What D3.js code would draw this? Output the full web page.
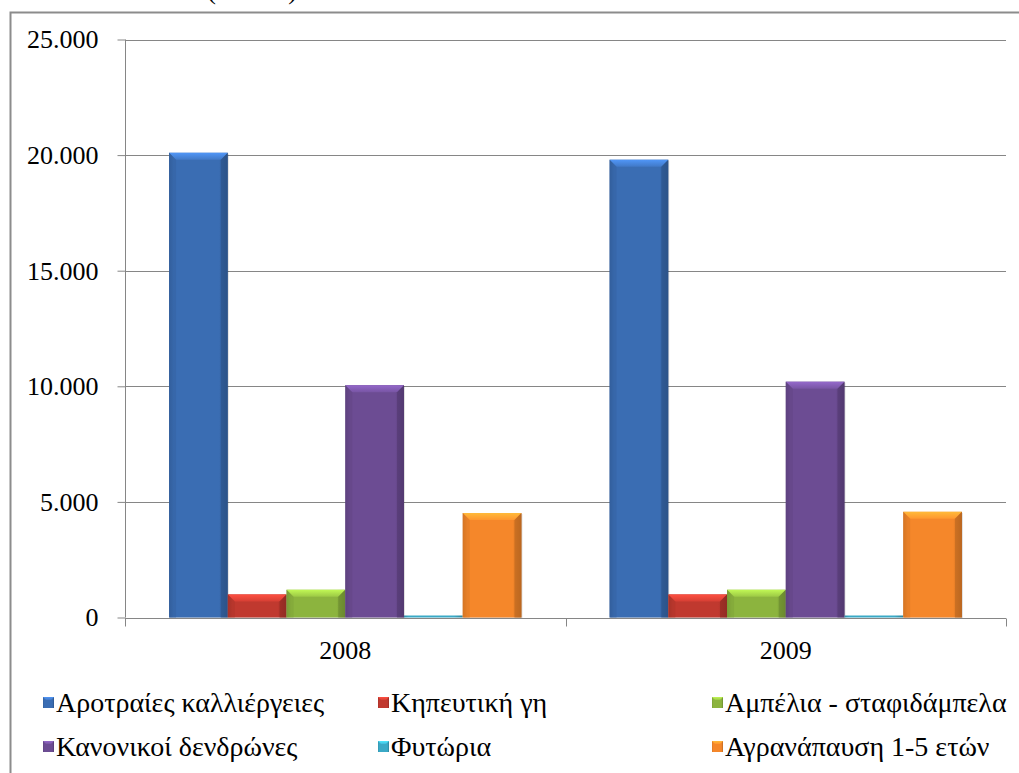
<!DOCTYPE html>
<html><head><meta charset="utf-8">
<script src="https://cdn.jsdelivr.net/npm/d3@7"></script>
<style>
body{margin:0;background:#fff}
svg{display:block}
</style>
</head><body>
<svg id="c" width="1019" height="773"></svg>
<script>
// ---- data ----
const years = ["2008", "2009"];
const seriesNames = ["Αροτραίες καλλιέργειες", "Κηπευτική γη", "Αμπέλια - σταφιδάμπελα",
                     "Κανονικοί δενδρώνες", "Φυτώρια", "Αγρανάπαυση 1-5 ετών"];
const values2008 = [20100, 1000, 1200, 10050, 20, 4520];
const values2009 = [19800, 1000, 1200, 10200, 20, 4570];
const yTicks = [0, 5000, 10000, 15000, 20000, 25000];
const yTickLabels = ["0", "5.000", "10.000", "15.000", "20.000", "25.000"];
const titleText = "(σε εκτ.)";

// ---- styles ----
const baseColors = ["#3a6db3", "#c0392f", "#8cb43e", "#6c4c93", "#3aa9c6", "#f5872a"];
const FONT = "26px";
const LEGFONT = "28px";
const FAMILY = "'Liberation Serif'";

const svg = d3.select("#c");
const W = 1019, H = 773;
svg.append("rect").attr("width", W).attr("height", H).attr("fill", "#fff");

const defs = svg.append("defs");
baseColors.forEach((c, i) => {
  const col = d3.color(c);
  const g = defs.append("linearGradient").attr("id", "g" + i)
    .attr("x1", "0").attr("x2", "1").attr("y1", "0").attr("y2", "0");
  g.append("stop").attr("offset", "0").attr("stop-color", col.darker(0.5));
  g.append("stop").attr("offset", "0.08").attr("stop-color", col);
  g.append("stop").attr("offset", "0.85").attr("stop-color", col);
  g.append("stop").attr("offset", "1").attr("stop-color", col.darker(0.7));
  const gt = defs.append("linearGradient").attr("id", "gt" + i)
    .attr("x1", "0").attr("x2", "0").attr("y1", "0").attr("y2", "1");
  gt.append("stop").attr("offset", "0").attr("stop-color", col.brighter(0.9));
  gt.append("stop").attr("offset", "1").attr("stop-color", col.brighter(0.3));
});

function label(sel, size) {
  return sel.style("font-family", FAMILY).style("font-size", size || FONT).attr("fill", "#000");
}

// chart frame
svg.append("rect").attr("x", 10.5).attr("y", 12.5).attr("width", W + 20).attr("height", H + 20)
  .attr("fill", "none").attr("stroke", "#8c8c8c").attr("stroke-width", 2);

// title, mostly above the top edge as in the reference
label(svg.append("text").attr("x", 252).attr("y", -1).attr("text-anchor", "middle")).text(titleText);

// ---- scales ----
const x0 = d3.scaleBand().domain(years).range([125, 1006]).paddingInner(0).paddingOuter(0);
const x1 = d3.scaleBand().domain(d3.range(seriesNames.length)).range([0, x0.bandwidth()])
  .paddingInner(0).paddingOuter(0.75);
const y = d3.scaleLinear().domain([0, 25000]).range([617.5, 39.5]);

const gridColor = "#868686";
svg.append("g").selectAll("line").data(yTicks.slice(1)).join("line")
  .attr("x1", 125).attr("x2", 1006).attr("y1", d => Math.round(y(d)) + 0.5).attr("y2", d => Math.round(y(d)) + 0.5)
  .attr("stroke", gridColor).attr("stroke-width", 1);

// y axis
const yAxis = d3.axisLeft(y).tickValues(yTicks).tickFormat((d, i) => yTickLabels[i]).tickSize(8).tickPadding(19);
const gy = svg.append("g").attr("transform", "translate(125.5,0)").call(yAxis);
gy.attr("font-family", null).attr("font-size", null);
gy.select(".domain").attr("stroke", gridColor).attr("d", `M0,${y(25000)}V${y(0)}`);
gy.selectAll(".tick line").attr("stroke", gridColor);
label(gy.selectAll(".tick text"));

// bars
const data = years.map((yr, k) => ({ year: yr, vals: k === 0 ? values2008 : values2009 }));
const groups = svg.append("g").selectAll("g").data(data).join("g")
  .attr("transform", d => `translate(${x0(d.year)},0)`);
groups.each(function (d) {
  const g = d3.select(this);
  d.vals.forEach((v, i) => {
    const bx = x1(i), bw = x1.bandwidth();
    const top = y(v), h = y(0) - y(v);
    g.append("rect").attr("x", bx + 1).attr("y", top + 1).attr("width", bw).attr("height", h)
      .attr("fill", "#000").attr("opacity", 0.12);
    const r = g.append("rect").attr("x", bx).attr("y", top).attr("width", bw).attr("height", h)
      .attr("fill", `url(#g${i})`);
    const bev = Math.min(7, h / 2);
    if (h > 2) {
      g.append("path")
        .attr("d", `M${bx},${top}L${bx + bw},${top}L${bx + bw - bev},${top + bev}L${bx + bev},${top + bev}Z`)
        .attr("fill", `url(#gt${i})`);
      g.append("path")
        .attr("d", `M${bx},${top}L${bx + bev},${top + bev}L${bx + bev},${top + h}L${bx},${top + h}Z`)
        .attr("fill", d3.color(baseColors[i]).darker(0.3)).attr("opacity", 0.5);
      g.append("path")
        .attr("d", `M${bx + bw},${top}L${bx + bw - bev},${top + bev}L${bx + bw - bev},${top + h}L${bx + bw},${top + h}Z`)
        .attr("fill", d3.color(baseColors[i]).darker(0.8)).attr("opacity", 0.6);
    } else {
      r.attr("height", 2).attr("y", y(0) - 2);
    }
  });
});

// x axis
const xAxis = d3.axisBottom(x0).tickSize(0).tickPadding(22);
const gx = svg.append("g").attr("transform", `translate(0,${Math.round(y(0)) + 0.5})`).call(xAxis);
gx.attr("font-family", null).attr("font-size", null);
gx.select(".domain").attr("stroke", gridColor).attr("d", `M125,0H1006`);
label(gx.selectAll(".tick text"));
const sepX = [x0.range()[0], x0("2009"), x0.range()[1]];
gx.append("g").selectAll("line").data(sepX).join("line")
  .attr("x1", d => Math.round(d) + 0.5).attr("x2", d => Math.round(d) + 0.5).attr("y1", 0).attr("y2", 8)
  .attr("stroke", gridColor);

// legend
const legCols = [43, 378, 712];
const legRows = [702, 746];
const leg = svg.append("g");
seriesNames.forEach((name, i) => {
  const cx = legCols[i % 3], cy = legRows[Math.floor(i / 3)];
  leg.append("rect").attr("x", cx).attr("y", cy - 5).attr("width", 11).attr("height", 11)
    .attr("fill", `url(#g${i})`);
  leg.append("path").attr("d", `M${cx},${cy - 5}h11l-3,3h-5z`).attr("fill", `url(#gt${i})`);
  label(leg.append("text").attr("x", cx + 13).attr("y", cy).attr("dy", "0.35em"), LEGFONT).text(name);
});
</script>
</body></html>
